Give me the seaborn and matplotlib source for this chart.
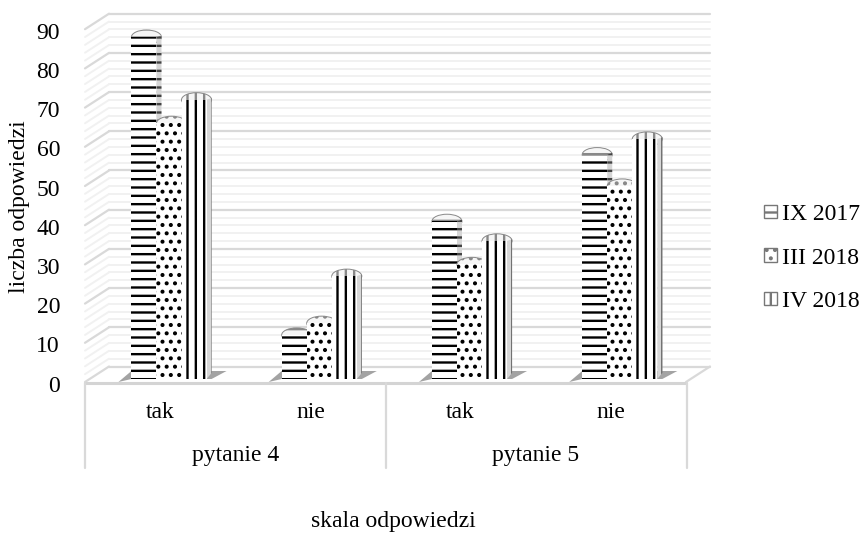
"""Grouped bars with a fake 3D look, answers per question and survey date."""

import matplotlib

matplotlib.use("Agg")

import matplotlib.pyplot as plt
import pandas as pd
import seaborn as sns
from matplotlib.patches import Ellipse, Patch, Polygon
from matplotlib.transforms import ScaledTranslation

categories = ["tak", "nie", "tak", "nie"]
questions = ["pytanie 4", "pytanie 5"]
series_names = ["IX 2017", "III 2018", "IV 2018"]
sep_2017 = [88, 12, 41, 58]
mar_2018 = [66, 15, 30, 50]
apr_2018 = [72, 27, 36, 62]
y_ticks = [0, 10, 20, 30, 40, 50, 60, 70, 80, 90]

HATCHES = ["--", "..", "||"]
W, H = 863, 533
X0, X1, Y0 = 85, 686, 382
PX_PER_UNIT = 3.92
PX_PER_CAT = (X1 - X0) / 4
DEPTH_X, DEPTH_Y = 24 / PX_PER_CAT, 15.5 / PX_PER_UNIT
FONT_SIZE = 17
BASE = 3 / PX_PER_UNIT
SIDE_W, SIDE_H = 5 / PX_PER_CAT, 6 / PX_PER_UNIT

sns.set_theme(style="white")
plt.rcParams["font.family"] = ["Liberation Serif"]
plt.rcParams["hatch.linewidth"] = 1.7
plt.rcParams["hatch.color"] = "black"
plt.rcParams["text.color"] = "black"

table = pd.DataFrame(
    {
        "slot": list(range(4)) * 3,
        "series": sum([[n] * 4 for n in series_names], []),
        "value": sep_2017 + mar_2018 + apr_2018,
    }
)

fig = plt.figure(figsize=(W / 100, H / 100), dpi=100)
ax = fig.add_axes([X0 / W, 1 - Y0 / H, (X1 - X0) / W, Y0 / H])
ax.patch.set_alpha(0)
sns.barplot(
    data=table, x="slot", y="value", hue="series", ax=ax, width=0.5, dodge=True,
    gap=0, palette=["white"] * 3, edgecolor="none", legend=False, saturation=1, zorder=3,
)
x_left = -(169 - X0) / PX_PER_CAT
ax.set_xlim(x_left, x_left + 4)
ax.set_ylim(0, Y0 / PX_PER_UNIT)
sns.despine(ax=ax, left=True, bottom=True)
ax.set_xlabel("")
ax.set_ylabel("")
ax.set_xticks([])
ax.set_yticks(y_ticks)
ax.tick_params(axis="y", length=0, labelsize=FONT_SIZE, pad=18, labelcolor="black")
nudge = ScaledTranslation(0, -1.5 / 100, fig.dpi_scale_trans)
for tick_label in ax.get_yticklabels():
    tick_label.set_transform(tick_label.get_transform() + nudge)
label_shift = (169 - X0) / PX_PER_CAT - 0.5

# walls and floor behind the bars
x_min, x_max = ax.get_xlim()
for tick in range(0, 92, 2):
    major = tick % 10 == 0
    colour, lw = ("#d9d9d9", 1.6) if major else ("#f1f1f1", 1.4)
    level = tick + DEPTH_Y
    ax.plot([x_min + DEPTH_X, x_max + DEPTH_X], [level, level], color=colour, lw=lw, zorder=1 + major * 0.1, clip_on=False)
    ax.plot([x_min, x_min + DEPTH_X], [tick, level], color=colour, lw=lw, zorder=1 + major * 0.1, clip_on=False)
ax.plot([x_max, x_max + DEPTH_X], [0, DEPTH_Y], color="#d9d9d9", lw=1.6, zorder=1, clip_on=False)
ax.plot([x_min, x_max], [-0.3, -0.3], color="#d4d4d4", lw=2.2, zorder=2, clip_on=False)

# hatches, side strips, caps and floor shadows come from the drawn bars
bars = [p for p in ax.patches if p.get_height() > 0]
per_series = len(categories)
for i, bar in enumerate(bars):
    hatch = HATCHES[i // per_series]
    x, w, h = bar.get_x(), bar.get_width(), bar.get_height()
    order = 3 + i // per_series * 0.1
    bar.set_y(BASE)
    bar.set_height(h - BASE)
    bar.set_hatch(hatch)
    bar.set_edgecolor("black")
    bar.set_linewidth(0)
    bar.set_zorder(order + 0.03)
    ax.add_patch(Polygon(
        [(x + w, BASE), (x + w + SIDE_W, BASE + SIDE_H), (x + w + SIDE_W, h + SIDE_H * 0.3), (x + w, h)],
        facecolor="#d6d6d6", edgecolor="#444444", hatch=hatch, lw=0, zorder=order + 0.02,
    ))
    ax.add_patch(Ellipse(
        (x + (w + SIDE_W) / 2, h), w + SIDE_W, 3.6,
        facecolor="#f6f6f6", edgecolor="#888888", hatch=hatch, lw=0.7, zorder=order + 0.01,
    ))

for slot in range(per_series):
    group = bars[slot:: per_series]
    left = min(b.get_x() for b in group)
    right = max(b.get_x() + b.get_width() for b in group)
    ax.add_patch(Polygon(
        [
            (left - 13 / PX_PER_CAT, 0), (left, 11 / PX_PER_UNIT),
            (right + 20 / PX_PER_CAT, 11 / PX_PER_UNIT), (right + 5 / PX_PER_CAT, BASE), (left, BASE),
        ],
        facecolor="#8c8c8c", edgecolor="none", alpha=0.8, zorder=2.5, clip_on=False,
    ))

# category axis below the floor
for px in [85, 386, 687]:
    fig.add_artist(plt.Line2D([px / W] * 2, [1 - 383 / H, 1 - 468 / H], color="#d9d9d9", lw=1.6))
for slot, label in enumerate(categories):
    ax.annotate(label, (slot - label_shift, 0), xytext=(0, -31 * 0.72), textcoords="offset points",
                ha="center", va="center", fontsize=FONT_SIZE, color="black", annotation_clip=False)
for i, label in enumerate(questions):
    ax.annotate(label, (i * 2 + 0.5 - label_shift, 0), xytext=(0, -74 * 0.72), textcoords="offset points",
                ha="center", va="center", fontsize=FONT_SIZE, color="black", annotation_clip=False)

fig.text(393 / W, 1 - 522 / H, "skala odpowiedzi", ha="center", va="center", fontsize=FONT_SIZE, color="black")
fig.text(20 / W, 1 - 207 / H, "liczba odpowiedzi", ha="center", va="center", rotation=90, fontsize=FONT_SIZE, color="black")

handles = [Patch(facecolor="white", edgecolor="#777777", hatch=h, label=n) for h, n in zip(HATCHES, series_names)]
fig.legend(
    handles=handles, loc="center left", bbox_to_anchor=(764 / W, 1 - 258 / H), frameon=False,
    fontsize=FONT_SIZE, handlelength=0.55, handleheight=0.5, handletextpad=0.22, labelspacing=0.95,
    borderpad=0, borderaxespad=0,
)

fig.savefig("out.png", dpi=100)
